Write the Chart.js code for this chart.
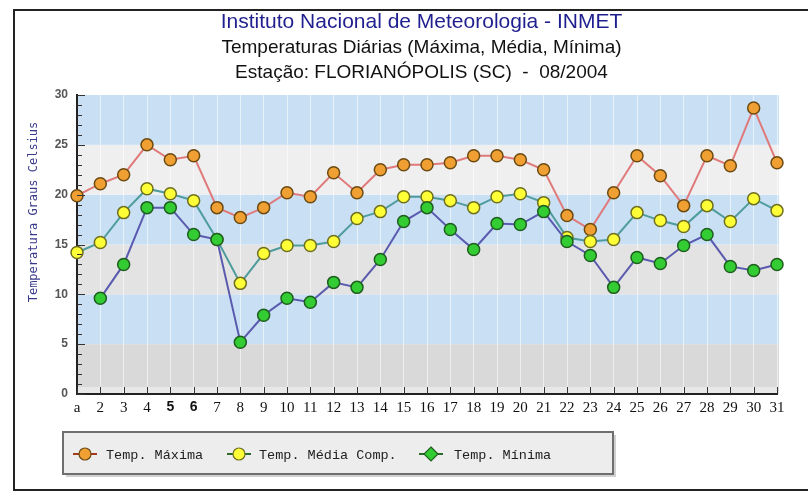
<!DOCTYPE html>
<html>
<head>
<meta charset="utf-8">
<script src="https://cdn.jsdelivr.net/npm/chart.js@4.4.1/dist/chart.umd.min.js"></script>
<style>
  html, body { margin: 0; padding: 0; background: #fff; }
  #wrap { width: 808px; height: 492px; }
</style>
</head>
<body>
<div id="wrap"><canvas id="tempChart" width="808" height="492"></canvas></div>
<script>
// Dias do mês (rótulos do eixo X)
const days = ["a", "2", "3", "4", "5", "6", "7", "8", "9", "10", "11", "12", "13", "14", "15", "16",
  "17", "18", "19", "20", "21", "22", "23", "24", "25", "26", "27", "28", "29", "30", "31"];

// Temperaturas diárias em °C
const tempMax = [19.9, 21.1, 22.0, 25.0, 23.5, 23.9, 18.7, 17.7, 18.7, 20.2, 19.8, 22.2, 20.2, 22.5, 23.0, 23.0,
  23.2, 23.9, 23.9, 23.5, 22.5, 17.9, 16.5, 20.2, 23.9, 21.9, 18.9, 23.9, 22.9, 28.7, 23.2];
const tempMedia = [14.2, 15.2, 18.2, 20.6, 20.1, 19.4, 15.5, 11.1, 14.1, 14.9, 14.9, 15.3, 17.6, 18.3, 19.8, 19.8,
  19.4, 18.7, 19.8, 20.1, 19.2, 15.7, 15.3, 15.5, 18.2, 17.4, 16.8, 18.9, 17.3, 19.6, 18.4];
const tempMin = [null, 9.6, 13.0, 18.7, 18.7, 16.0, 15.5, 5.2, 7.9, 9.6, 9.2, 11.2, 10.7, 13.5, 17.3, 18.7,
  16.5, 14.5, 17.1, 17.0, 18.3, 15.3, 13.9, 10.7, 13.7, 13.1, 14.9, 16.0, 12.8, 12.4, 13.0];

// Faixas de fundo (de 5 em 5 graus)
const bandLimits = [0, 5, 10, 15, 20, 25, 30];
const bandColors = ["#d9d9d9", "#c9dff4", "#e3e3e3", "#c9dff4", "#efefef", "#c9dff4"];

const yTicks = [0, 5, 10, 15, 20, 25, 30];

const series = [
  { label: "Temp. Máxima", data: tempMax, line: "#e07a7a", fill: "#f0a032", edge: "#6b4a12", legLine: "#a33a1a", shape: "circle" },
  { label: "Temp. Média Comp.", data: tempMedia, line: "#4f9c9c", fill: "#ffff38", edge: "#6e6e1e", legLine: "#2e6a2e", shape: "circle" },
  { label: "Temp. Mínima", data: tempMin, line: "#5a5aae", fill: "#33cc33", edge: "#1e5e1e", legLine: "#2e6a2e", shape: "rectRot" }
];

// Fundo em faixas, moldura e marcas do eixo
const backdrop = {
  id: "backdrop",
  beforeDraw(chart) {
    const { ctx, chartArea: a, scales: { y } } = chart;
    ctx.save();
    ctx.fillStyle = "#fff";
    ctx.fillRect(0, 0, chart.width, chart.height);
    for (let i = 0; i < bandColors.length; i++) {
      const top = y.getPixelForValue(bandLimits[i + 1]);
      const bot = y.getPixelForValue(bandLimits[i]);
      ctx.fillStyle = bandColors[i];
      ctx.fillRect(a.left, top, a.right - a.left + 2, bot - top);
    }
    ctx.fillStyle = "#e8e8e8";
    ctx.fillRect(a.left, y.getPixelForValue(0.7), a.right - a.left, y.getPixelForValue(0) - y.getPixelForValue(0.7));
    // moldura externa
    ctx.strokeStyle = "#222";
    ctx.lineWidth = 2;
    ctx.beginPath();
    ctx.moveTo(chart.width, 10);
    ctx.lineTo(14, 10);
    ctx.lineTo(14, 490);
    ctx.lineTo(chart.width, 490);
    ctx.stroke();
    ctx.restore();
  },
  afterDatasetsDraw(chart) {
    const { ctx, chartArea: a, scales: { x, y } } = chart;
    ctx.save();
    ctx.strokeStyle = "#333";
    ctx.lineWidth = 1;
    // marcas menores e maiores no eixo Y (para dentro)
    for (let v = 0; v <= 30; v++) {
      const py = Math.round(y.getPixelForValue(v)) + 0.5;
      const len = v % 5 === 0 ? 8 : 5;
      ctx.beginPath();
      ctx.moveTo(a.left, py);
      ctx.lineTo(a.left + len, py);
      ctx.stroke();
    }
    // marcas no eixo X
    for (let i = 0; i < days.length; i++) {
      const px = Math.round(x.getPixelForValue(i)) + 0.5;
      ctx.beginPath();
      ctx.moveTo(px, a.bottom);
      ctx.lineTo(px, a.bottom - 7);
      ctx.stroke();
    }
    // título do eixo Y
    ctx.translate(34, 212);
    ctx.rotate(-Math.PI / 2);
    ctx.fillStyle = "#3a3a8c";
    ctx.font = "12px 'DejaVu Sans Mono'";
    ctx.textAlign = "center";
    ctx.textBaseline = "middle";
    ctx.fillText("Temperatura Graus Celsius", 0, 0);
    ctx.restore();
  }
};

// Legenda em caixa cinza abaixo do gráfico
const boxLegend = {
  id: "boxLegend",
  afterDraw(chart) {
    const ctx = chart.ctx;
    const bx = 63, by = 432, bw = 550, bh = 42;
    ctx.save();
    ctx.fillStyle = "rgba(0,0,0,0.18)";
    ctx.fillRect(bx + 3, by + 3, bw, bh);
    ctx.fillStyle = "#ededed";
    ctx.fillRect(bx, by, bw, bh);
    ctx.strokeStyle = "#6f6f6f";
    ctx.lineWidth = 2;
    ctx.strokeRect(bx, by, bw, bh);
    const iconX = [85, 239, 431];
    const textX = [106, 259, 454];
    const cy = by + 22;
    series.forEach((s, i) => {
      ctx.strokeStyle = s.legLine;
      ctx.lineWidth = 2;
      ctx.beginPath();
      ctx.moveTo(iconX[i] - 12, cy);
      ctx.lineTo(iconX[i] + 12, cy);
      ctx.stroke();
      ctx.fillStyle = s.fill;
      ctx.strokeStyle = s.edge;
      ctx.lineWidth = 1.2;
      ctx.beginPath();
      if (s.shape === "circle") {
        ctx.arc(iconX[i], cy, 6, 0, Math.PI * 2);
      } else {
        ctx.moveTo(iconX[i], cy - 7);
        ctx.lineTo(iconX[i] + 7, cy);
        ctx.lineTo(iconX[i], cy + 7);
        ctx.lineTo(iconX[i] - 7, cy);
        ctx.closePath();
      }
      ctx.fill();
      ctx.stroke();
      ctx.fillStyle = "#222";
      ctx.font = "13.5px 'Liberation Mono'";
      ctx.textAlign = "left";
      ctx.textBaseline = "middle";
      ctx.fillText(s.label, textX[i], cy + 1);
    });
    ctx.restore();
  }
};

new Chart(document.getElementById("tempChart"), {
  type: "line",
  data: {
    labels: days,
    datasets: series.map(s => ({
      label: s.label,
      data: s.data,
      borderColor: s.line,
      borderWidth: 2,
      backgroundColor: s.fill,
      pointBackgroundColor: s.fill,
      pointBorderColor: s.edge,
      pointBorderWidth: 1.5,
      pointRadius: 6,
      pointHoverRadius: 6,
      tension: 0,
      clip: false
    })).reverse()
  },
  options: {
    responsive: false,
    animation: false,
    events: [],
    layout: { padding: { top: 0, right: 0, bottom: 0, left: 35 } },
    plugins: {
      legend: { display: false },
      tooltip: { enabled: false },
      title: {
        display: true,
        text: "Instituto Nacional de Meteorologia - INMET",
        color: "#1f1f8f",
        font: { family: "'Liberation Sans', Arial", size: 21, weight: "normal", lineHeight: 1.2 },
        padding: { top: 10, bottom: 0 }
      },
      subtitle: {
        display: true,
        text: ["Temperaturas Diárias (Máxima, Média, Mínima)", "Estação: FLORIANÓPOLIS (SC)  -  08/2004"],
        color: "#111",
        font: { family: "'Liberation Sans', Arial", size: 19, weight: "normal", lineHeight: 1.316 },
        padding: { top: 0, bottom: 9.8 }
      }
    },
    scales: {
      x: {
        offset: false,
        grid: { display: true, drawOnChartArea: true, drawTicks: false, color: "rgba(255,255,255,0.55)", lineWidth: 1 },
        border: { display: true, color: "#222", width: 2 },
        ticks: {
          color: "#111",
          padding: 5,
          maxRotation: 0,
          autoSkip: false,
          font: ctx => (ctx.index === 4 || ctx.index === 5)
            ? { family: "'Liberation Sans', Arial", size: 14, weight: "bold" }
            : { family: "'Liberation Serif', 'Times New Roman'", size: 15 }
        },
        afterFit(scale) { scale.height = 98; }
      },
      y: {
        min: 0,
        max: 30,
        grid: { display: false, drawTicks: false },
        border: { display: true, color: "#222", width: 2 },
        afterBuildTicks(scale) { scale.ticks = yTicks.map(v => ({ value: v })); },
        ticks: {
          color: "#555",
          padding: 9,
          font: { family: "'Liberation Sans', Arial", size: 12, weight: "bold" }
        },
        afterFit(scale) { scale.width = 42; }
      },
      // eixo vazio à direita, só reserva a margem
      yRight: {
        position: "right",
        display: true,
        min: 0,
        max: 30,
        grid: { display: false, drawTicks: false },
        border: { display: false },
        ticks: { display: false },
        afterFit(scale) { scale.width = 31; }
      }
    }
  },
  plugins: [backdrop, boxLegend]
});
</script>
</body>
</html>
